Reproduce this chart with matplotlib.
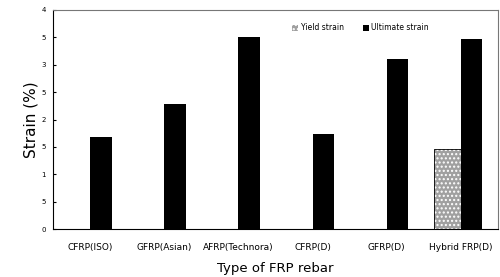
import numpy as np
import matplotlib
matplotlib.use('Agg')
import matplotlib.pyplot as plt

categories = ['CFRP(ISO)', 'GFRP(Asian)', 'AFRP(Technora)', 'CFRP(D)', 'GFRP(D)', 'Hybrid FRP(D)']
yield_strain = [0, 0, 0, 0, 0, 1.46]
ultimate_strain = [1.68, 2.28, 3.5, 1.73, 3.1, 3.47]
ytick_vals = [0, 0.5, 1, 1.5, 2, 2.5, 3, 3.5, 4]
ytick_labels = ['0', '5', '1', '5', '2', '5', '3', '5', '4']

fig = plt.figure(figsize=(5, 2.77), dpi=100)
ax = fig.add_axes([0.106, 0.173, 0.89, 0.791])

x = np.arange(len(categories))
wy = 0.36
wu = 0.29
ax.bar(x, yield_strain, -wy, align='edge', color='#a0a0a0', hatch='....', edgecolor='white',
       linewidth=0, label='Yield strain')
ax.bar(x, yield_strain, -wy, align='edge', fill=False, edgecolor='black', linewidth=0.6)
ax.bar(x, ultimate_strain, wu, align='edge', color='black', label='Ultimate strain')

ax.set_xlim(-0.5, len(categories) - 0.5)
ax.set_ylim(0, 4)
ax.set_xticks(x)
ax.set_xticklabels(categories, fontsize=6.5)
ax.set_yticks(ytick_vals)
ax.set_yticklabels(ytick_labels, fontsize=5)
ax.tick_params(axis='x', length=0, pad=10)
ax.tick_params(axis='y', length=2, direction='in', pad=5)
ax.set_ylabel('Strain (%)', fontsize=11, labelpad=2)
ax.set_xlabel('Type of FRP rebar', fontsize=9.5, labelpad=7)

for s in ['top', 'right']:
    ax.spines[s].set_color('#777777')
for s in ax.spines.values():
    s.set_linewidth(0.8)

ax.legend(loc='upper right', bbox_to_anchor=(0.86, 0.97), ncol=2, frameon=False,
          fontsize=5.5, handlelength=0.8, handleheight=0.8, columnspacing=2.5,
          handletextpad=0.3)

fig.savefig('out.png', dpi=100)
